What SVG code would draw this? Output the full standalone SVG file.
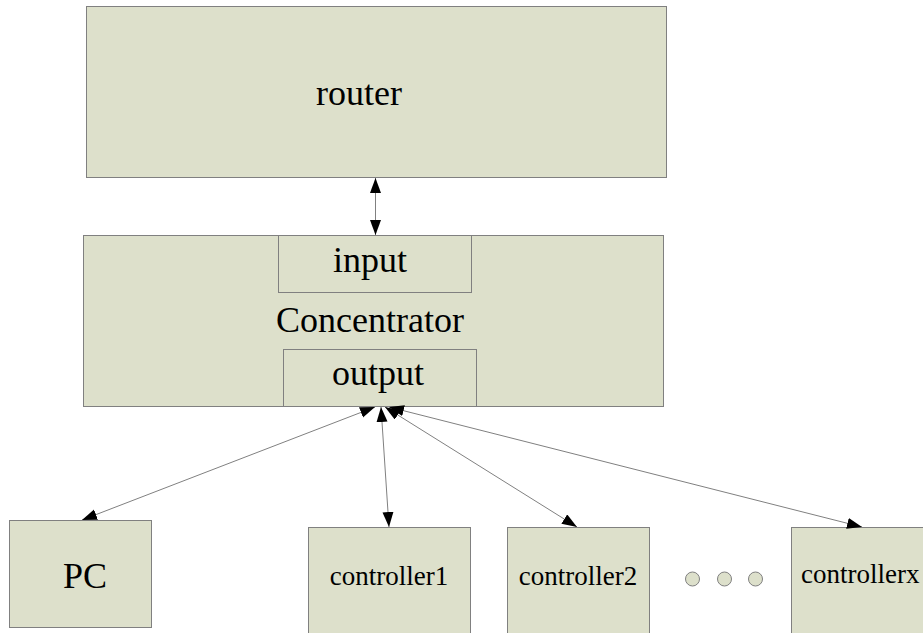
<svg xmlns="http://www.w3.org/2000/svg" width="923" height="633" viewBox="0 0 923 633">
<defs>
<style>
.box{fill:#dde0cb;stroke:#808080;stroke-width:1}
.t{font-family:'Liberation Serif','Times New Roman',serif;fill:#000;text-anchor:middle}
.big{font-size:36px}
.small{font-size:27px}
.conn{stroke:#808080;stroke-width:1;fill:none;marker-start:url(#ah);marker-end:url(#ah)}
.dot{fill:#dde0cb;stroke:#808080;stroke-width:1}
</style>
<marker id="ah" markerUnits="userSpaceOnUse" markerWidth="16" markerHeight="12" refX="15" refY="5.5" orient="auto-start-reverse" viewBox="0 0 16 12">
<path d="M0,0 L15,5.5 L0,11 z" fill="#000"/>
</marker>
</defs>
<rect width="923" height="633" fill="#fff"/>
<g id="router">
<rect class="box" x="86.5" y="6.5" width="580" height="171"/>
<text class="t big" x="359" y="105">router</text>
</g>
<g id="concentrator">
<rect class="box" x="83.5" y="235.5" width="580" height="171"/>
<text class="t big" x="370" y="332">Concentrator</text>
</g>
<g id="input">
<rect class="box" x="278.5" y="235.5" width="193" height="57"/>
<text class="t big" x="370" y="272">input</text>
</g>
<g id="output">
<rect class="box" x="283.5" y="349.5" width="193" height="57"/>
<text class="t big" x="378" y="385">output</text>
</g>
<g id="pc">
<rect class="box" x="9.5" y="520.5" width="142" height="107"/>
<text class="t big" x="85" y="588">PC</text>
</g>
<g id="controller1">
<rect class="box" x="308.5" y="527.5" width="162" height="120"/>
<text class="t small" x="389" y="585">controller1</text>
</g>
<g id="controller2">
<rect class="box" x="507.5" y="527.5" width="142" height="120"/>
<text class="t small" x="578" y="585">controller2</text>
</g>
<g id="dots">
<circle class="dot" cx="692.5" cy="579" r="7"/>
<circle class="dot" cx="724.5" cy="579" r="7"/>
<circle class="dot" cx="755.5" cy="579" r="7"/>
</g>
<g id="controllerx">
<rect class="box" x="791.5" y="527.5" width="150" height="120"/>
<text class="t small" x="801" y="583" style="text-anchor:start">controllerx</text>
</g>
<g id="connectors">
<line class="conn" x1="375.5" y1="178" x2="375.5" y2="235"/>
<line class="conn" x1="375" y1="407" x2="82" y2="520"/>
<line class="conn" x1="381" y1="407" x2="389" y2="527"/>
<line class="conn" x1="385" y1="407" x2="577" y2="527"/>
<line class="conn" x1="389" y1="407" x2="862" y2="527"/>
</g>
</svg>
